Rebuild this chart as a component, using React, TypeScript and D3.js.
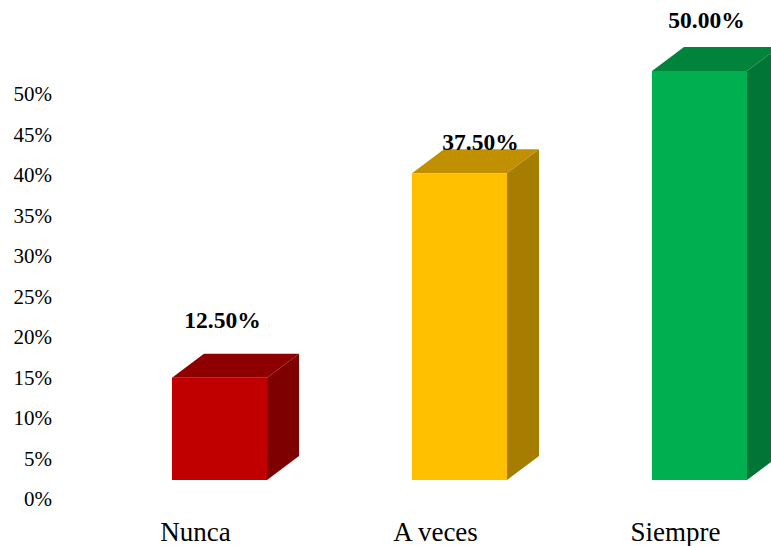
import React from "react";
import * as d3 from "d3";

const categories = ["Nunca", "A veces", "Siempre"];
const values = [12.5, 37.5, 50.0];
const valueLabels = ["12.50%", "37.50%", "50.00%"];
const tickValues = [0, 5, 10, 15, 20, 25, 30, 35, 40, 45, 50];
const frontColors = ["#C00000", "#FFC000", "#00B050"];
const topColors = ["#8E0000", "#C09000", "#00843C"];
const sideColors = ["#7F0000", "#A67D00", "#007535"];
const labelLift = [50, 23, 43];
const labelShift = [3, 21, 7];

const W = 771;
const H = 546;
const DX = 32;
const DY = 24;
const FONT = "'Liberation Serif', 'Times New Roman', serif";

export default function App() {
  const x = d3.scaleBand<string>().domain(categories).range([99.5, 819.5]).paddingInner(0.604).paddingOuter(0.302);
  const y = d3.scaleLinear().domain([0, 50]).range([480, 71]);
  const yTick = d3.scaleLinear().domain([0, 50]).range([499, 94]);
  const bw = x.bandwidth();

  return (
    <svg width={W} height={H} style={{ position: "absolute", left: 0, top: 0, background: "#fff" }} fontFamily={FONT}>
      {tickValues.map((t) => (
        <text key={t} x={52} y={yTick(t)} textAnchor="end" dominantBaseline="central" fontSize={21} fill="#000">
          {t}%
        </text>
      ))}
      {categories.map((c, i) => {
        const x0 = x(c) as number;
        const x1 = x0 + bw;
        const yt = y(values[i]);
        const yb = y(0);
        const top = `M${x0},${yt} L${x0 + DX},${yt - DY} L${x1 + DX},${yt - DY} L${x1},${yt} Z`;
        const side = `M${x1},${yt} L${x1 + DX},${yt - DY} L${x1 + DX},${yb - DY} L${x1},${yb} Z`;
        return (
          <g key={c}>
            <path d={side} fill={sideColors[i]} />
            <path d={top} fill={topColors[i]} />
            <rect x={x0} y={yt} width={bw} height={yb - yt} fill={frontColors[i]} />
            <text
              x={x0 + bw / 2 + labelShift[i]}
              y={yt - labelLift[i]}
              textAnchor="middle"
              fontSize={23.5}
              fontWeight="bold"
              fill="#000"
            >
              {valueLabels[i]}
            </text>
            <text x={x0 + bw / 2 - 24} y={541} textAnchor="middle" fontSize={27} fill="#000">
              {c}
            </text>
          </g>
        );
      })}
    </svg>
  );
}
